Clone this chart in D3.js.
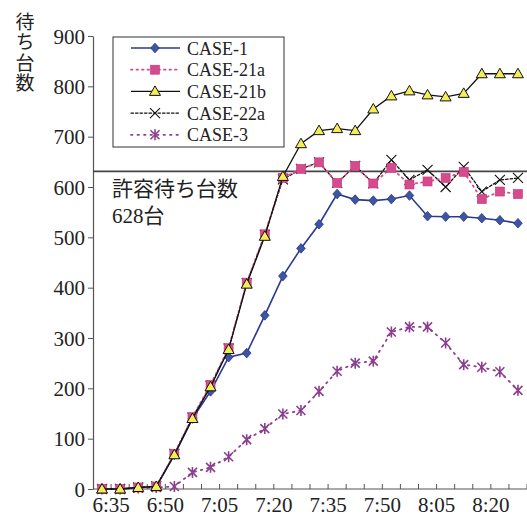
<!DOCTYPE html>
<html><head><meta charset="utf-8">
<script src="https://cdn.jsdelivr.net/npm/d3@7"></script>
<style>
body{margin:0;background:#fff;}
svg{display:block;}
</style></head>
<body>
<svg id="chart" width="527" height="520"></svg>
<script>
const times = ["6:35","6:40","6:45","6:50","6:55","7:00","7:05","7:10","7:15","7:20","7:25","7:30",
               "7:35","7:40","7:45","7:50","7:55","8:00","8:05","8:10","8:15","8:20","8:25","8:30"];
const tickLabels = ["6:35","6:50","7:05","7:20","7:35","7:50","8:05","8:20"];
const yTicks = [0,100,200,300,400,500,600,700,800,900];
const seriesNames = ["CASE-1","CASE-21a","CASE-21b","CASE-22a","CASE-3"];
const case1   = [0,0,3,5,68,140,194,262,270,345,423,478,526,586,575,573,576,583,542,541,541,538,534,528];
const case21a = [0,0,3,5,70,143,207,280,410,506,618,636,649,608,642,607,638,605,611,618,630,576,591,586];
const case21b = [0,0,3,5,68,140,203,277,407,502,621,686,712,716,712,755,781,791,783,779,786,825,825,825];
const case22a = [0,0,3,5,70,142,205,279,409,505,615,636,649,608,642,607,654,614,634,600,640,591,614,618];
const case3   = [0,0,2,3,5,33,43,64,98,120,149,156,194,234,250,254,312,322,322,290,247,242,233,196];
const limitValue = 628;
const limitLabel = ["許容待ち台数","628台"];
const yTitle = "待ち台数";

const svg = d3.select("#chart");
const serif = "'Liberation Serif','Noto Sans CJK JP',serif";
const cjk = "'Noto Sans CJK JP','Liberation Serif',sans-serif";

const x = d3.scaleBand().domain(times).range([93,527]).paddingInner(0).paddingOuter(0);
const y = d3.scaleLinear().domain([0,900]).range([489,36]);
const cx = t => x(t) + x.bandwidth()/2;

// Y axis
const yAxis = d3.axisLeft(y).tickValues(yTicks).tickSize(5).tickPadding(3).tickSizeOuter(0);
const gy = svg.append("g").attr("transform","translate(93,0)").call(yAxis);
gy.select(".domain").attr("stroke","#555").attr("stroke-width",1.2);
gy.selectAll(".tick line").attr("stroke","#555");
gy.selectAll(".tick text").attr("font-family",serif).attr("font-size",21).attr("fill","#222").attr("dy","0.34em");

// X axis
svg.append("line").attr("x1",93).attr("x2",527).attr("y1",489).attr("y2",489).attr("stroke","#555").attr("stroke-width",1.2);
const boundaries = times.map(t => x(t)).slice(1).concat([x(times[times.length-1]) + x.bandwidth()]);
svg.append("g").selectAll("line").data(boundaries).join("line")
  .attr("x1",d=>d).attr("x2",d=>d).attr("y1",489).attr("y2",484).attr("stroke","#555");
svg.append("g").selectAll("text").data(tickLabels).join("text")
  .attr("x",d=>x(d)+x.bandwidth()).attr("y",512)
  .attr("text-anchor","middle").attr("font-family",serif).attr("font-size",21).attr("fill","#222")
  .text(d=>d);

// Y title (vertical)
svg.append("text").attr("x",25).attr("y",12)
  .attr("writing-mode","vertical-rl").attr("style","writing-mode:vertical-rl;letter-spacing:1.5px")
  .attr("font-family",cjk).attr("font-size",19).attr("fill","#222")
  .text(yTitle);

// limit line
svg.append("line").attr("x1",93).attr("x2",527).attr("y1",y(limitValue)-1.5).attr("y2",y(limitValue)-1.5)
  .attr("stroke","#444").attr("stroke-width",1.6);
svg.append("text").attr("x",112).attr("y",196).attr("font-family",cjk).attr("font-size",21).attr("fill","#222").text(limitLabel[0]);
svg.append("text").attr("x",112).attr("y",223).attr("font-family",serif).attr("font-size",21).attr("fill","#222").text(limitLabel[1]);

// marker drawers
function drawMarker(g, type, px, py){
  if(type==="diamond"){
    g.append("path").attr("d",`M${px},${py-4.8}L${px+4.3},${py}L${px},${py+4.8}L${px-4.3},${py}Z`)
      .attr("fill","#3d55a5").attr("stroke","#27327a").attr("stroke-width",0.8);
  } else if(type==="square"){
    g.append("rect").attr("x",px-4.5).attr("y",py-4.5).attr("width",9).attr("height",9)
      .attr("fill","#d84a8e").attr("stroke","#b83a78").attr("stroke-width",0.6);
  } else if(type==="triangle"){
    g.append("path").attr("d",`M${px},${py-5.5}L${px+5.5},${py+4}L${px-5.5},${py+4}Z`)
      .attr("fill","#f3ee55").attr("stroke","#111").attr("stroke-width",1);
  } else if(type==="x"){
    g.append("path").attr("d",`M${px-5},${py-5}L${px+5},${py+5}M${px+5},${py-5}L${px-5},${py+5}`)
      .attr("stroke","#111").attr("stroke-width",1.1).attr("fill","none");
  } else if(type==="star"){
    g.append("path").attr("d",`M${px-4.5},${py-4.5}L${px+4.5},${py+4.5}M${px+4.5},${py-4.5}L${px-4.5},${py+4.5}M${px},${py-5.5}L${px},${py+5.5}`)
      .attr("stroke","#8b3f8f").attr("stroke-width",1.6).attr("fill","none");
  }
}

const series = [
  {name:seriesNames[0], values:case1,  color:"#2a3a8f", width:1.6, dash:null,   marker:"diamond"},
  {name:seriesNames[4], values:case3,  color:"#8b3f8f", width:1.8, dash:"1.5,5", marker:"star"},
  {name:seriesNames[3], values:case22a,color:"#111",    width:1.3, dash:"2.5,2", marker:"x"},
  {name:seriesNames[1], values:case21a,color:"#d84a8e", width:1.8, dash:"1.5,4", marker:"square"},
  {name:seriesNames[2], values:case21b,color:"#111",    width:1.3, dash:null,   marker:"triangle"}
];

const line = d3.line().x((d,i)=>cx(times[i])).y(d=>y(d));
series.forEach(s=>{
  const g = svg.append("g");
  g.append("path").datum(s.values).attr("d",line).attr("fill","none")
    .attr("stroke",s.color).attr("stroke-width",s.width)
    .attr("stroke-dasharray",s.dash).attr("stroke-linecap",s.dash?"round":"butt");
  s.values.forEach((v,i)=>drawMarker(g,s.marker,cx(times[i]),y(v)));
});

// legend
const leg = svg.append("g");
leg.append("rect").attr("x",113).attr("y",37).attr("width",171).attr("height",110)
  .attr("fill","#fff").attr("stroke","#333").attr("stroke-width",1);
const legOrder = [series[0],series[3],series[4],series[2],series[1]];
legOrder.forEach((s,i)=>{
  const ly = 48 + i*21.7;
  leg.append("line").attr("x1",131).attr("x2",180).attr("y1",ly).attr("y2",ly)
    .attr("stroke",s.color).attr("stroke-width",s.width).attr("stroke-dasharray",s.dash)
    .attr("stroke-linecap",s.dash?"round":"butt");
  drawMarker(leg,s.marker,155,ly);
  leg.append("text").attr("x",187).attr("y",ly+6.5).attr("font-family",serif).attr("font-size",18)
    .attr("fill","#222").text(s.name);
});
</script>
</body></html>
